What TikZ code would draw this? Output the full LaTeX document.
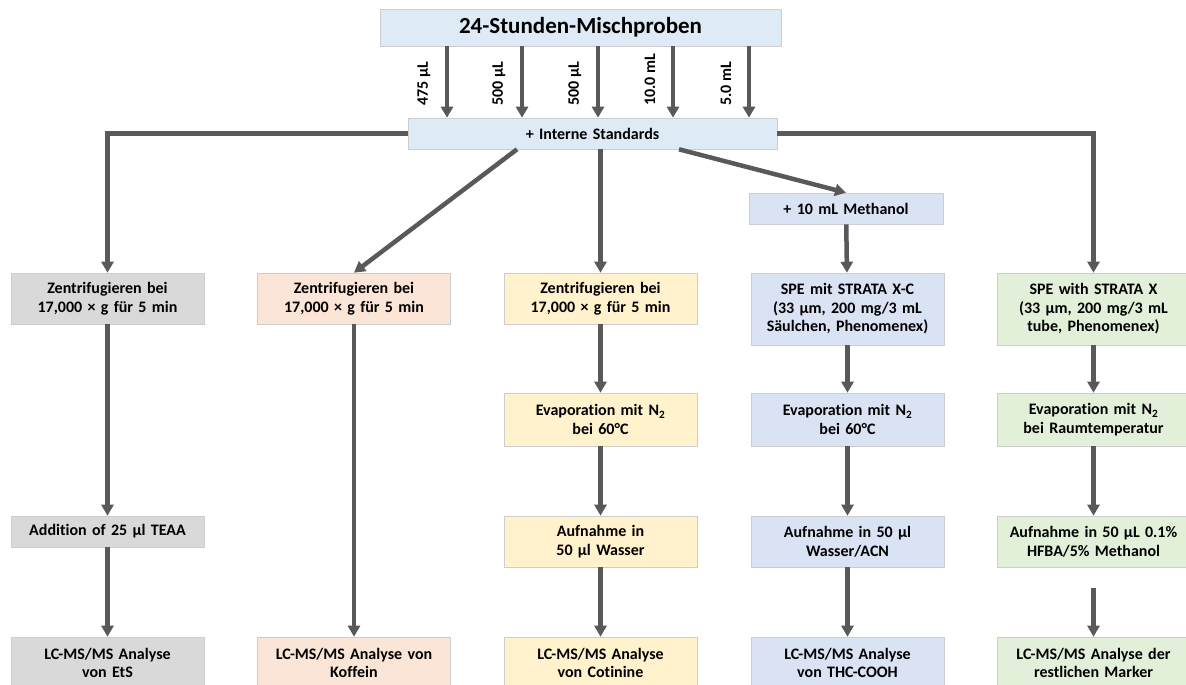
\documentclass[tikz,border=0pt]{standalone}
\usepackage{fontspec}
\setmainfont{Carlito}[Ligatures=NoCommon]
\usetikzlibrary{arrows.meta, positioning, calc}
\definecolor{boxline}{HTML}{CDCDCD}
\definecolor{arrgray}{HTML}{595959}
\definecolor{hdrblue}{HTML}{DEEBF7}
\definecolor{methblue}{HTML}{DAE3F3}
\definecolor{etsgray}{HTML}{D9D9D9}
\definecolor{cafpeach}{HTML}{FBE5D6}
\definecolor{cotyellow}{HTML}{FFF2CC}
\definecolor{restgreen}{HTML}{E2F0D9}
\tikzset{
  >={Triangle[length=11pt,width=12pt]},
  font=\bfseries\fontsize{16}{18.5}\selectfont,
  stepcard/.style={
    draw=boxline, fill=#1, line width=0.6pt, align=center,
    text width=185pt, minimum height=51pt, inner xsep=4pt, inner ysep=0pt
  },
  stepcard/.default=hdrblue,
  arr/.style={->, line width=4.5pt, draw=arrgray},
  vol/.style={rotate=90, anchor=west, inner sep=0pt}
}

\begin{document}
\begin{tikzpicture}[x=1pt,y=-1pt]
  \useasboundingbox (0,0) rectangle (1186,685);
  \clip (0,0) rectangle (1186,685);
  % sample and internal standards
  \node[stepcard, text width=393pt, minimum height=37pt,
    font=\bfseries\fontsize{23}{27}\selectfont] (mix) at (580.5,27.5) {24-Stunden-Mischproben};
  \node[stepcard, text width=361pt, minimum height=31pt] (istd) at (592.5,133.5) {+ Interne Standards};
  \node[stepcard=methblue, text width=186pt, minimum height=31pt] (meoh) at (846,208.5) {+ 10 mL Methanol};

  \foreach \x/\v [count=\i] in {447/475 µL, 522/500 µL, 598/500 µL, 673/10.0 mL, 749/5.0 mL} {
    \coordinate (v\i) at (\x,0);
    \draw[arr] (v\i |- mix.south) -- (v\i |- istd.north);
    \node[vol] (vl\i) at (\x-23,106) {\v};
  }

  % EtS
  \node[stepcard=etsgray] (zent1) at (107.5,298.5) {Zentrifugieren bei\\17,000 × g für 5 min};
  \node[stepcard=etsgray, minimum height=31pt] (add1) at (107.5,531.5) {Addition of 25 µl TEAA};
  \node[stepcard=etsgray, minimum height=52pt] (lc1) at (107.5,663) {LC-MS/MS Analyse\\von EtS};
  % Koffein
  \node[stepcard=cafpeach] (zent2) at (354,298.5) {Zentrifugieren bei\\17,000 × g für 5 min};
  \node[stepcard=cafpeach, minimum height=52pt] (lc2) at (354,663) {LC-MS/MS Analyse von\\Koffein};
  % Cotinine
  \node[stepcard=cotyellow] (zent3) at (600.5,298.5) {Zentrifugieren bei\\17,000 × g für 5 min};
  \node[stepcard=cotyellow, minimum height=53pt] (evap3) at (600.5,419.5) {Evaporation mit N\textsubscript{2}\\bei 60°C};
  \node[stepcard=cotyellow] (auf3) at (600.5,541.5) {Aufnahme in\\50 µl Wasser};
  \node[stepcard=cotyellow, minimum height=52pt] (lc3) at (600.5,663) {LC-MS/MS Analyse\\von Cotinine};
  % THC-COOH
  \node[stepcard=methblue, minimum height=72pt] (spe4) at (847.5,309) {SPE mit STRATA X-C\\(33 µm, 200 mg/3 mL\\Säulchen, Phenomenex)};
  \node[stepcard=methblue, minimum height=53pt] (evap4) at (847.5,419.5) {Evaporation mit N\textsubscript{2}\\bei 60°C};
  \node[stepcard=methblue] (auf4) at (847.5,541.5) {Aufnahme in 50 µl\\Wasser/ACN};
  \node[stepcard=methblue, minimum height=52pt] (lc4) at (847.5,663) {LC-MS/MS Analyse\\von THC-COOH};
  % restliche Marker
  \node[stepcard=restgreen, minimum height=72pt] (spe5) at (1093.5,309) {SPE with STRATA X\\(33 µm, 200 mg/3 mL\\tube, Phenomenex)};
  \node[stepcard=restgreen, minimum height=53pt] (evap5) at (1093.5,419.5) {Evaporation mit N\textsubscript{2}\\bei Raumtemperatur};
  \node[stepcard=restgreen] (auf5) at (1093.5,541.5) {Aufnahme in 50 µL 0.1\%\\HFBA/5\% Methanol};
  \node[stepcard=restgreen, minimum height=52pt] (lc5) at (1093.5,663) {LC-MS/MS Analyse der\\restlichen Marker};
  \coordinate (gap5) at (1093.5,588);

  % branches
  \draw[arr] (istd.west) -| (zent1.north);
  \draw[arr] ([xshift=-75.5pt]istd.south) -- (zent2.north);
  \draw[arr] (zent3.north |- istd.south) -- (zent3.north);
  \draw[arr] ([xshift=86.5pt]istd.south) -- (meoh.north);
  \draw[arr] (meoh) -- (spe4);
  \draw[arr] (istd.east) -| (spe5.north);

  \draw[arr] (zent1) -- (add1);
  \draw[arr] (add1) -- (lc1);
  \draw[arr] (zent2) -- (lc2);
  \draw[arr] (zent3) -- (evap3);
  \draw[arr] (evap3) -- (auf3);
  \draw[arr] (auf3) -- (lc3);
  \draw[arr] (spe4) -- (evap4);
  \draw[arr] (evap4) -- (auf4);
  \draw[arr] (auf4) -- (lc4);
  \draw[arr] (spe5) -- (evap5);
  \draw[arr] (evap5) -- (auf5);
  \draw[arr] (gap5) -- (lc5);
\end{tikzpicture}
\end{document}
